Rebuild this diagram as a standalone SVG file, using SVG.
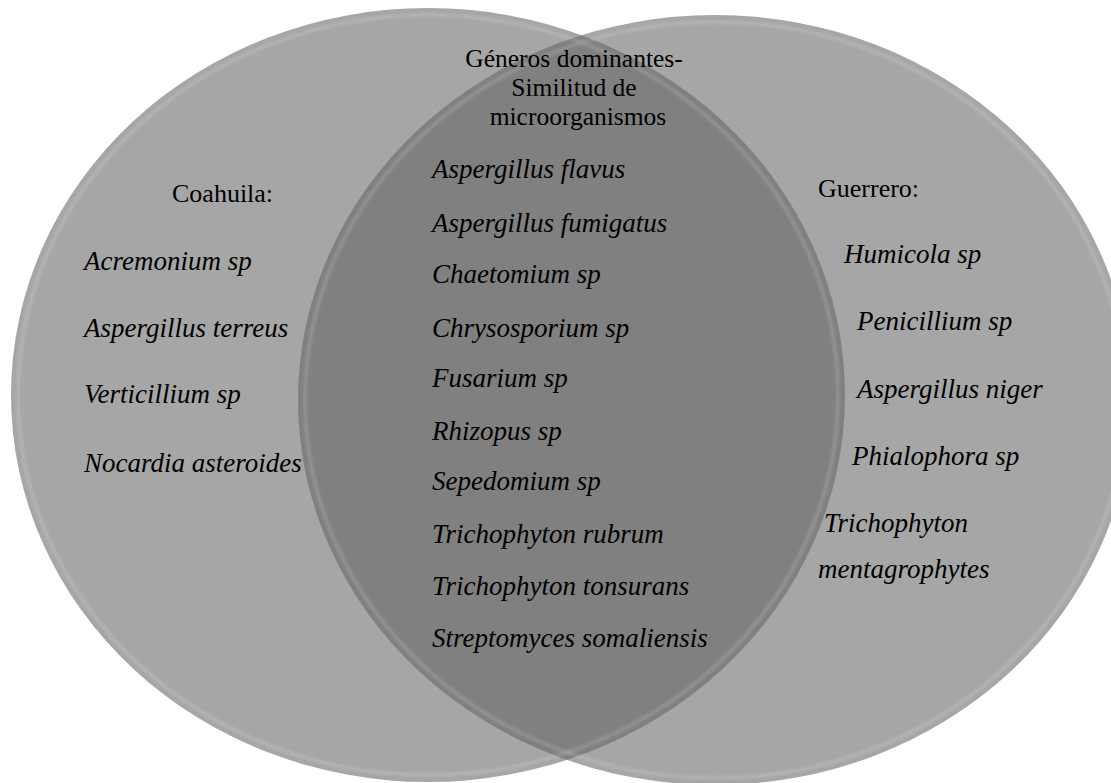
<svg xmlns="http://www.w3.org/2000/svg" width="1111" height="783" viewBox="0 0 1111 783">
<style>
.t{font-family:"Liberation Serif","Times New Roman",serif;font-size:26px;fill:#000}
.h{font-size:25.5px}
.i{font-style:italic;font-size:27px}
.c{text-anchor:middle}
.set{fill:#a6a6a6}
.lens{fill:#808080}
.hl{fill:none;stroke:#ffffff;stroke-opacity:0.18;stroke-width:3}
</style>
<defs>
<clipPath id="clipL"><ellipse cx="428" cy="395" rx="417" ry="387"/></clipPath>
<filter id="soft" x="-5%" y="-5%" width="110%" height="110%"><feGaussianBlur stdDeviation="1.5"/></filter>
</defs>
<rect width="1111" height="783" fill="#ffffff"/>
<g id="coahuila">
<ellipse class="set" cx="428" cy="395" rx="417" ry="387"/>
</g>
<g id="guerrero">
<ellipse class="set" cx="715" cy="400" rx="417" ry="385"/>
</g>
<g id="overlap">
<ellipse class="lens" cx="715" cy="400" rx="417" ry="385" clip-path="url(#clipL)"/>
</g>
<g id="edges" filter="url(#soft)">
<ellipse class="hl" cx="428" cy="395" rx="410" ry="380"/>
<ellipse class="hl" cx="715" cy="400" rx="410" ry="378"/>
</g>
<g id="coahuila-text">
<text class="t" x="172" y="202">Coahuila:</text>
<text class="t i" x="84" y="270">Acremonium sp</text>
<text class="t i" x="84" y="337">Aspergillus terreus</text>
<text class="t i" x="84" y="403">Verticillium sp</text>
<text class="t i" x="84" y="472">Nocardia asteroides</text>
</g>
<g id="overlap-text">
<text class="t h c" x="574" y="67">Géneros dominantes-</text>
<text class="t h c" x="574" y="96">Similitud de</text>
<text class="t h c" x="578" y="125">microorganismos</text>
<text class="t i" x="432" y="178">Aspergillus flavus</text>
<text class="t i" x="432" y="232">Aspergillus fumigatus</text>
<text class="t i" x="432" y="283">Chaetomium sp</text>
<text class="t i" x="432" y="337">Chrysosporium sp</text>
<text class="t i" x="432" y="387">Fusarium sp</text>
<text class="t i" x="432" y="440">Rhizopus sp</text>
<text class="t i" x="432" y="490">Sepedomium sp</text>
<text class="t i" x="432" y="543">Trichophyton rubrum</text>
<text class="t i" x="432" y="595">Trichophyton tonsurans</text>
<text class="t i" x="432" y="647">Streptomyces somaliensis</text>
</g>
<g id="guerrero-text">
<text class="t" x="818" y="197">Guerrero:</text>
<text class="t i" x="844" y="263">Humicola sp</text>
<text class="t i" x="857" y="330">Penicillium sp</text>
<text class="t i" x="857" y="398">Aspergillus niger</text>
<text class="t i" x="852" y="465">Phialophora sp</text>
<text class="t i" x="824" y="532">Trichophyton</text>
<text class="t i" x="818" y="578">mentagrophytes</text>
</g>
</svg>
